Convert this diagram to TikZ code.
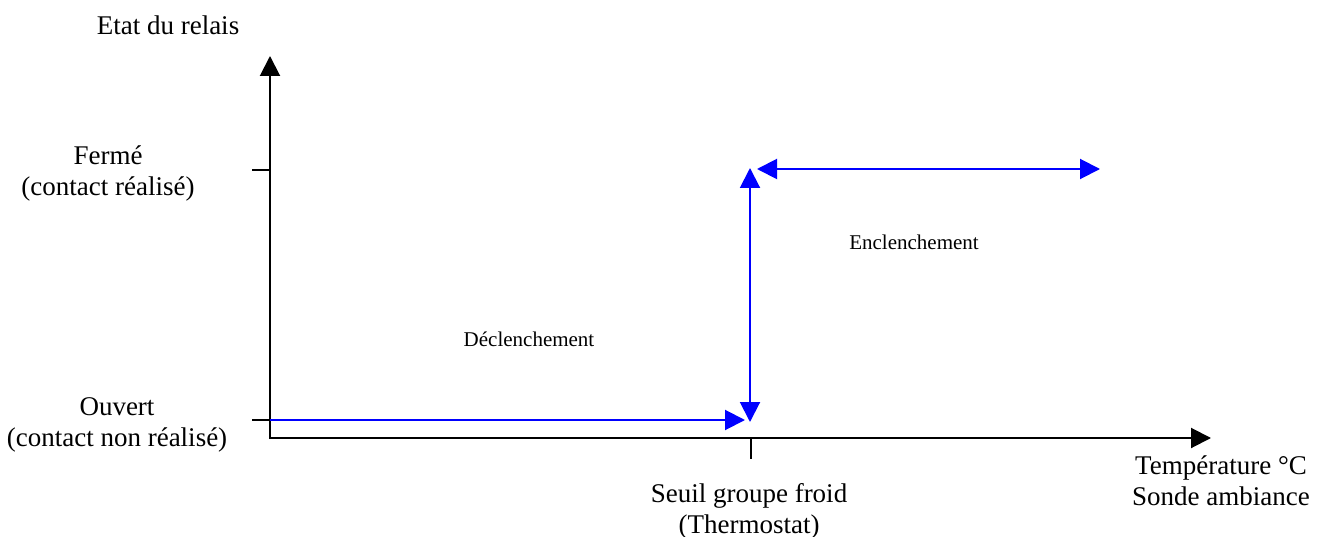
\documentclass[tikz,border=0pt]{standalone}
\usepackage{fontspec}
\setmainfont{Liberation Serif}
\usetikzlibrary{arrows.meta}
\tikzset{
  axis/.style={line width=2pt, black, -{Triangle[length=20pt,width=20pt]}},
  tickline/.style={line width=1.6pt, black},
  bluearr/.style={line width=2pt, color=blue, {Triangle[length=20pt,width=20pt]}-{Triangle[length=20pt,width=20pt]}},
  bluearrone/.style={line width=2pt, color=blue, -{Triangle[length=20pt,width=20pt]}},
  lbl/.style={font=\fontsize{27}{31}\selectfont, align=center, inner sep=0pt},
  smalllbl/.style={font=\fontsize{21}{24}\selectfont, inner sep=0pt}
}
\begin{document}
\begin{tikzpicture}[x=1pt,y=-1pt]
\useasboundingbox (0,0) rectangle (1317,537);
% axes
\coordinate (O) at (270,438);
\coordinate (ytop) at (270,56);
\coordinate (xend) at (1211,438);
\draw[axis] (270,439) -- (ytop);
\draw[axis] (O) -- (xend);
% ticks
\coordinate (t1a) at (252,170); \coordinate (t1b) at (270,170);
\coordinate (t2a) at (252,420); \coordinate (t2b) at (270,420);
\coordinate (t3a) at (751,438); \coordinate (t3b) at (751,459);
\draw[tickline] (t1a) -- (t1b);
\draw[tickline] (t2a) -- (t2b);
\draw[tickline] (t3a) -- (t3b);
% blue curve
\coordinate (b0) at (270,420);
\coordinate (b1) at (745,420);
\coordinate (v0) at (750,422);
\coordinate (v1) at (750,168);
\coordinate (h0) at (757,169);
\coordinate (h1) at (1100,169);
\draw[bluearrone] (b0) -- (b1);
\draw[bluearr] (v0) -- (v1);
\draw[bluearr] (h0) -- (h1);
% labels
\node[lbl] (ylab) at (168,25) {Etat du relais};
\node[lbl] (ferme) at (108,173) {Fermé\\(contact réalisé)};
\node[lbl] (ouvert) at (117,425) {Ouvert\\(contact non réalisé)};
\node[lbl] (seuil) at (749,511) {Seuil groupe froid\\(Thermostat)};
\node[lbl] (xlab) at (1221,481) {Température °C\\Sonde ambiance};
\node[smalllbl] (encl) at (914,242) {Enclenchement};
\node[smalllbl] (decl) at (529,339) {Déclenchement};
\end{tikzpicture}
\end{document}
